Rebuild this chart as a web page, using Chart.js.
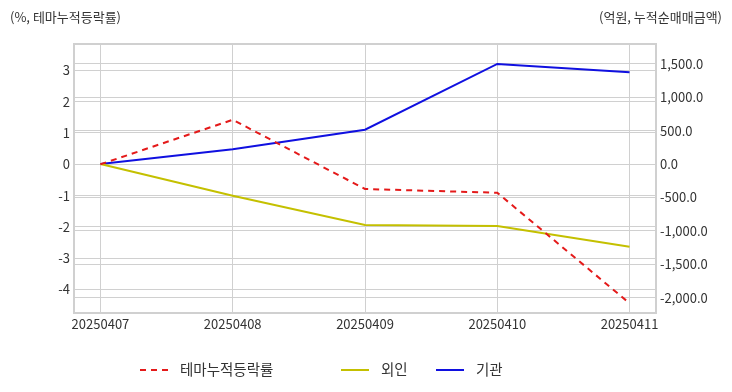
<!DOCTYPE html>
<html>
<head>
<meta charset="utf-8">
<script src="https://cdn.jsdelivr.net/npm/chart.js@4.4.1/dist/chart.umd.min.js"></script>
<style>
  body { margin: 0; background: #fff; font-family: "Noto Sans CJK KR", sans-serif; }
  #wrap { position: relative; width: 732px; height: 392px; }
  .unit { position: absolute; top: 7px; font-size: 13px; color: #333; }
  #legend { position: absolute; top: 358px; left: 0; font-size: 14.5px; color: #333; }
  .item { position: absolute; top: 0; white-space: nowrap; }
  .swatch { position: absolute; top: 11px; width: 28px; height: 0; }
</style>
</head>
<body>
<div id="wrap">
  <canvas id="lineChart" width="732" height="392"></canvas>
  <div class="unit" style="left:10px;">(%, 테마누적등락률)</div>
  <div class="unit" style="right:10px;">(억원, 누적순매매금액)</div>
  <div id="legend"></div>
</div>
<script>
// data
const dates = ['20250407', '20250408', '20250409', '20250410', '20250411'];
const themeReturn = [0, 1.42, -0.79, -0.91, -4.44];     // %, left axis
const foreignNet = [0, -475, -913, -928, -1238];        // 억원, right axis
const instNet = [0, 220, 513, 1497, 1373];              // 억원, right axis
const leftTicks = [-4, -3, -2, -1, 0, 1, 2, 3];
const rightTicks = [-2000, -1500, -1000, -500, 0, 500, 1000, 1500];

const toPoints = arr => arr.map((v, i) => ({ x: i, y: v }));
const tickFont = { family: '"Noto Sans CJK KR", sans-serif', size: 13 };
const gridColor = '#d0d0d0';

// box round the plot area
const frame = {
    id: 'frame',
    beforeDatasetsDraw(chart) {
        const a = chart.chartArea, ctx = chart.ctx;
        ctx.save();
        ctx.strokeStyle = '#d0d0d0';
        ctx.lineWidth = 2;
        ctx.strokeRect(a.left, a.top, a.right - a.left, a.bottom - a.top);
        ctx.restore();
    }
};

const ctx = document.getElementById('lineChart').getContext('2d');
const chart = new Chart(ctx, {
    type: 'line',
    data: {
        datasets: [{
            label: '테마누적등락률',
            data: toPoints(themeReturn),
            borderColor: '#e41a1a',
            borderDash: [6, 5],
            borderWidth: 2,
            yAxisID: 'y'
        }, {
            label: '외인',
            data: toPoints(foreignNet),
            borderColor: '#c4c000',
            borderWidth: 2,
            yAxisID: 'y1'
        }, {
            label: '기관',
            data: toPoints(instNet),
            borderColor: '#1010e0',
            borderWidth: 2,
            yAxisID: 'y1'
        }]
    },
    plugins: [frame],
    options: {
        responsive: false,
        animation: false,
        layout: { padding: { top: 44, left: 0, right: 0, bottom: 0 } },
        elements: { point: { radius: 0 }, line: { tension: 0 } },
        plugins: { legend: { display: false }, tooltip: { enabled: false } },
        scales: {
            x: {
                type: 'linear',
                min: -0.2,
                max: 4.2,
                afterBuildTicks: s => { s.ticks = dates.map((d, i) => ({ value: i })); },
                afterFit: s => { s.height = 79; },
                ticks: {
                    callback: v => dates[v],
                    font: tickFont,
                    color: '#333',
                    padding: 3,
                    maxRotation: 0,
                    autoSkip: false
                },
                grid: { color: gridColor, drawTicks: false },
                border: { color: '#d0d0d0', width: 2 }
            },
            y: {
                position: 'left',
                min: -4.75,
                max: 3.84,
                afterBuildTicks: s => { s.ticks = leftTicks.map(v => ({ value: v })); },
                afterFit: s => { s.width = 74; },
                ticks: { font: tickFont, color: '#333', padding: 4 },
                grid: { color: gridColor, drawTicks: false },
                border: { color: '#d0d0d0', width: 2 }
            },
            y1: {
                position: 'right',
                min: -2230,
                max: 1796,
                afterBuildTicks: s => { s.ticks = rightTicks.map(v => ({ value: v })); },
                afterFit: s => { s.width = 76; },
                ticks: {
                    font: tickFont,
                    color: '#333',
                    padding: 4,
                    callback: v => v.toLocaleString('en-US', { minimumFractionDigits: 1, maximumFractionDigits: 1 })
                },
                grid: { color: gridColor, drawTicks: false },
                border: { color: '#d0d0d0', width: 2 }
            }
        }
    }
});

// html legend built from the datasets
const legendX = [140, 341, 436];
const legend = document.getElementById('legend');
chart.data.datasets.forEach((ds, i) => {
    const item = document.createElement('div');
    item.className = 'item';
    item.style.left = legendX[i] + 'px';
    const sw = document.createElement('span');
    sw.className = 'swatch';
    sw.style.borderTop = '2px ' + (ds.borderDash ? 'dashed ' : 'solid ') + ds.borderColor;
    const label = document.createElement('span');
    label.textContent = ds.label;
    label.style.marginLeft = '40px';
    item.appendChild(sw);
    item.appendChild(label);
    legend.appendChild(item);
});
</script>
</body>
</html>
